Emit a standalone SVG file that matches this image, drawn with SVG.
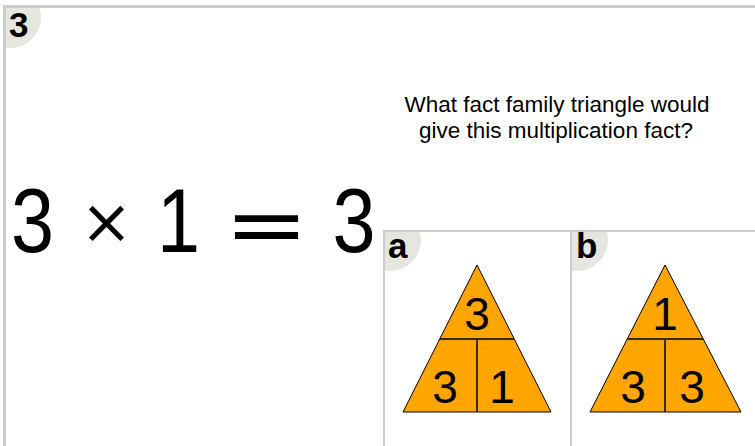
<svg xmlns="http://www.w3.org/2000/svg" width="755" height="446" viewBox="0 0 755 446">
<style>
.frame{fill:#fff;stroke:#cccccc}
.badge{fill:#e6e6e1}
.blabel{font-family:"Liberation Sans",Arial,sans-serif;font-weight:bold;font-size:35px;fill:#000}
.q{font-family:"Liberation Sans",Arial,sans-serif;font-size:22.5px;fill:#000;text-anchor:middle}
.eq{font-family:"Liberation Sans",Arial,sans-serif;font-size:90px;fill:#000;text-anchor:middle}
.op{font-family:"DejaVu Sans",sans-serif;fill:#000;text-anchor:middle}
.tri{fill:#FFA500;stroke:#000;stroke-width:1}
.div{stroke:#3a2a00;stroke-width:2;fill:none}
.num{font-family:"Liberation Sans",Arial,sans-serif;font-size:46px;fill:#000;text-anchor:middle}
</style>
<defs>
<clipPath id="cMain"><rect x="6" y="8" width="749" height="438"/></clipPath>
<clipPath id="cA"><rect x="385" y="232" width="183" height="214"/></clipPath>
<clipPath id="cB"><rect x="572" y="232" width="183" height="214"/></clipPath>
</defs>
<rect width="755" height="446" fill="#fff"/>
<g id="main">
<rect class="frame" x="4.5" y="6.5" width="760" height="450" stroke-width="3"/>
<circle class="badge" cx="10" cy="17" r="31" clip-path="url(#cMain)"/>
<text class="blabel" x="9" y="37">3</text>
<text class="q" x="557" y="112">What fact family triangle would</text>
<text class="q" x="556" y="138">give this multiplication fact?</text>
<g id="equation">
<text class="eq" transform="translate(32.5,252) scale(0.86,1)">3</text>
<text class="op" font-size="62" transform="translate(106.5,243)">×</text>
<text class="eq" transform="translate(178.5,252) scale(0.86,1)">1</text>
<text class="op" font-size="84" transform="translate(266.5,253) scale(1.2,1)">=</text>
<text class="eq" transform="translate(354,252) scale(0.86,1)">3</text>
</g>
</g>
<g id="optionA">
<rect class="frame" x="384" y="231" width="190" height="230" stroke-width="2"/>
<circle class="badge" cx="390" cy="240" r="31" clip-path="url(#cA)"/>
<text class="blabel" x="388" y="258">a</text>
<polygon class="tri" points="477,265 551,412 403,412"/>
<line class="div" x1="440" y1="339" x2="514" y2="339"/>
<line class="div" x1="477" y1="339" x2="477" y2="412"/>
<text class="num" x="477" y="330">3</text>
<text class="num" x="445" y="403">3</text>
<text class="num" x="502" y="403">1</text>
</g>
<g id="optionB">
<rect class="frame" x="571" y="231" width="200" height="230" stroke-width="2"/>
<circle class="badge" cx="577" cy="240" r="31" clip-path="url(#cB)"/>
<text class="blabel" x="576" y="258">b</text>
<polygon class="tri" points="665,265 741,412 590,412"/>
<line class="div" x1="627" y1="339" x2="703" y2="339"/>
<line class="div" x1="665" y1="339" x2="665" y2="412"/>
<text class="num" x="665" y="330">1</text>
<text class="num" x="633" y="403">3</text>
<text class="num" x="692" y="403">3</text>
</g>
</svg>
